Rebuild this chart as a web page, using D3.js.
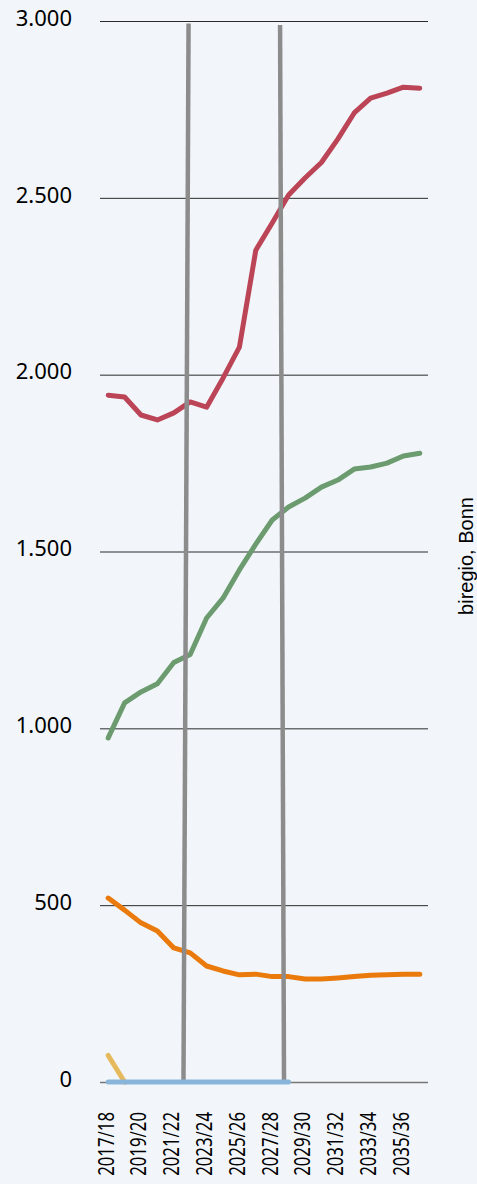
<!DOCTYPE html>
<html>
<head>
<meta charset="utf-8">
<script src="https://cdn.jsdelivr.net/npm/d3@7"></script>
<style>
  html, body { margin: 0; padding: 0; background: #f2f6fa; }
  svg { display: block; }
</style>
</head>
<body>
<div id="chart"></div>
<script>
// school years
var years = ['2017/18','2018/19','2019/20','2020/21','2021/22','2022/23','2023/24','2024/25','2025/26','2026/27',
             '2027/28','2028/29','2029/30','2030/31','2031/32','2032/33','2033/34','2034/35','2035/36','2036/37'];
var tickYears = ['2017/18','2019/20','2021/22','2023/24','2025/26','2027/28','2029/30','2031/32','2033/34','2035/36'];
var yTicks = [0, 500, 1000, 1500, 2000, 2500, 3000];

var red    = [1942,1937,1886,1872,1892,1923,1908,1990,2078,2352,2429,2508,2556,2600,2666,2740,2782,2796,2813,2810];
var green  = [973,1072,1103,1126,1186,1209,1312,1368,1448,1521,1589,1626,1651,1682,1702,1733,1739,1750,1770,1778];
var orange = [520,486,450,427,379,365,328,314,303,305,298,298,291,291,294,298,302,303,305,305];
var yellow = [75, 0];
var blue   = [0,0,0,0,0,0,0,0,0,0,0,0];

// the two grey bars (position in year index, top value -> bottom value)
var barTopIdx = [4.9, 10.48];
var barBotIdx = [4.59, 10.72];
var barTopVal = [2993, 2989];

var W = 477, H = 1184;
var svg = d3.select('#chart').append('svg').attr('width', W).attr('height', H);

var x = d3.scaleBand().domain(years).range([100, 428]);
var xi = d3.scaleLinear().domain([0, years.length-1])
    .range([x(years[0]) + x.bandwidth()/2, x(years[years.length-1]) + x.bandwidth()/2]);
var y = d3.scaleLinear().domain([0, 3000]).range([1082, 21]);

var de = d3.formatLocale({decimal: ',', thousands: '.', grouping: [3], currency: ['', '€']});
var fmt = de.format(',');

// grid
svg.append('g').selectAll('line').data(yTicks).enter().append('line')
    .attr('x1', 100).attr('x2', 428)
    .attr('y1', function(d){ return y(d)+0.5; }).attr('y2', function(d){ return y(d)+0.5; })
    .attr('stroke', function(d){ return d == 0 ? '#777' : '#2a2a2a'; })
    .attr('stroke-width', function(d){ return d == 0 ? 1.5 : 1; });

svg.append('g').selectAll('text').data(yTicks).enter().append('text')
    .attr('x', 72).attr('y', function(d){ return y(d) - 3; })
    .attr('dy', '0.35em')
    .attr('text-anchor', 'end')
    .style('font-family', 'Noto Sans, sans-serif').style('font-size', '22px').style('fill', '#000')
    .text(function(d){ return fmt(d); });

// x labels
svg.append('g').selectAll('text').data(tickYears).enter().append('text')
    .attr('transform', function(d){ return 'translate(' + (x(d) + x.bandwidth()/2 - 2) + ',1112) rotate(-90) scale(0.8,1)'; })
    .attr('dy', '0.35em')
    .attr('text-anchor', 'end')
    .style('font-family', 'Noto Sans, sans-serif').style('font-size', '21px').style('fill', '#000')
    .text(function(d){ return d; });

var line = d3.line()
    .x(function(d, i){ return xi(i); })
    .y(function(d){ return y(d); });

function draw(data, color){
  svg.append('path').datum(data)
    .attr('d', line)
    .attr('fill', 'none')
    .attr('stroke', color)
    .attr('stroke-width', 5)
    .attr('stroke-linecap', 'round')
    .attr('stroke-linejoin', 'round');
}

draw(red, '#bb4456');
draw(green, '#6b9b6f');
draw(orange, '#e97a0b');
draw(yellow, '#e6b95c');

// grey bars
svg.append('g').selectAll('line').data(barTopIdx).enter().append('line')
    .attr('x1', function(d){ return xi(d); })
    .attr('y1', function(d, i){ return y(barTopVal[i]); })
    .attr('x2', function(d, i){ return xi(barBotIdx[i]); })
    .attr('y2', y(0))
    .attr('stroke', '#8c8c8c')
    .attr('stroke-width', 4.5);

draw(blue, '#8ab5da');

svg.append('text')
    .attr('transform', 'translate(466,556) rotate(-90)')
    .attr('dy', '0.35em')
    .attr('text-anchor', 'middle')
    .style('font-family', 'Liberation Sans, Arial, sans-serif').style('font-size', '20px').style('fill', '#000')
    .text('biregio, Bonn');
</script>
</body>
</html>
